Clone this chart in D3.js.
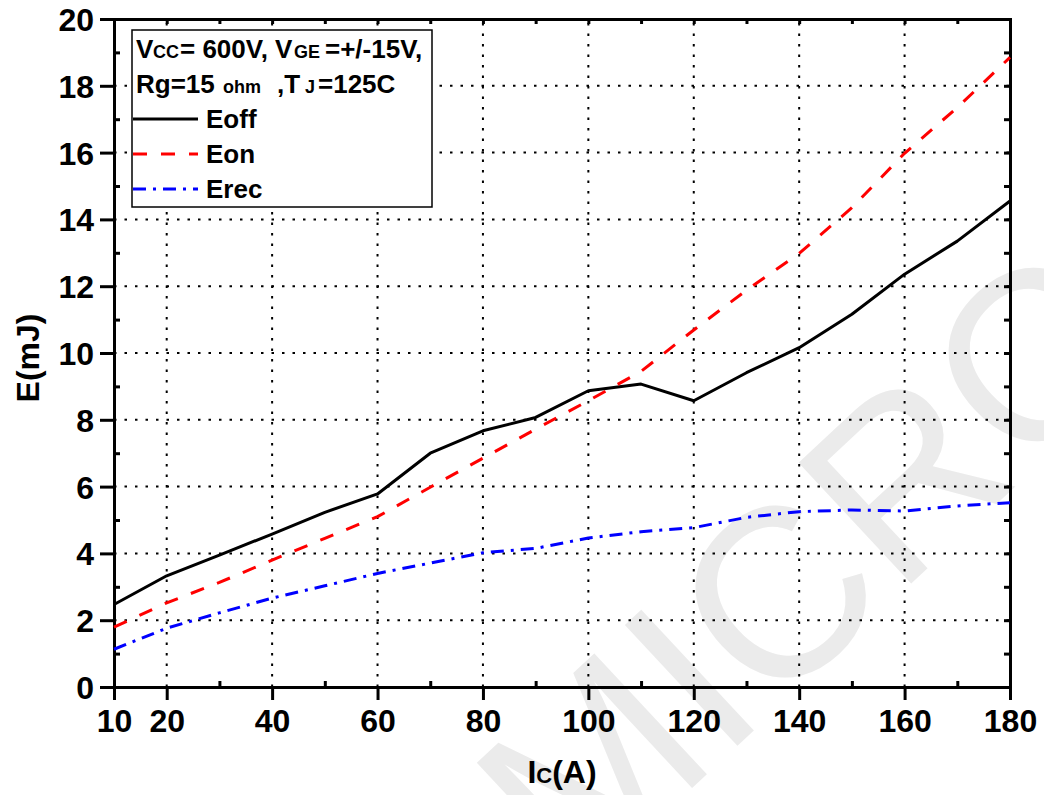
<!DOCTYPE html>
<html>
<head>
<meta charset="utf-8">
<script src="https://cdn.jsdelivr.net/npm/d3@7"></script>
<style>
  body { margin: 0; background: #fff; }
  svg text { font-family: "Liberation Sans", Arial, sans-serif; font-weight: bold; fill: #000; }
</style>
</head>
<body>
<div id="chart"></div>
<script>
(function(d3) {
  'use strict';

  // collector current, A
  var icValues = [10, 20, 30, 40, 50, 60, 70, 80, 90, 100, 110, 120, 130, 140, 150, 160, 170, 180];
  // switching energies, mJ
  var eoff = [2.47, 3.33, 3.95, 4.58, 5.23, 5.78, 7.0, 7.67, 8.07, 8.87, 9.07, 8.57, 9.41, 10.16, 11.16, 12.36, 13.35, 14.55];
  var eon  = [1.79, 2.52, 3.13, 3.80, 4.45, 5.10, 5.98, 6.85, 7.72, 8.57, 9.45, 10.69, 11.88, 12.98, 14.35, 15.98, 17.35, 18.85];
  var erec = [1.13, 1.76, 2.22, 2.66, 3.03, 3.40, 3.71, 4.02, 4.15, 4.46, 4.65, 4.77, 5.08, 5.25, 5.30, 5.27, 5.42, 5.52];

  var xTicks = [10, 20, 40, 60, 80, 100, 120, 140, 160, 180];
  var xMinor = [30, 50, 70, 90, 110, 130, 150, 170];
  var yTicks = [0, 2, 4, 6, 8, 10, 12, 14, 16, 18, 20];
  var yMinor = [1, 3, 5, 7, 9, 11, 13, 15, 17, 19];

  var seriesNames = ['Eoff', 'Eon', 'Erec'];

  var width = 1044;
  var height = 795;
  var margin = {left: 114, right: 34, top: 19, bottom: 108};

  var svg = d3.select('#chart')
    .append('svg')
    .attr('width', width)
    .attr('height', height);

  // watermark
  svg.append('text')
    .attr('transform', 'translate(575,897) rotate(-43)')
    .style('font-size', '240px')
    .style('font-weight', 'normal')
    .style('fill', '#ebebeb')
    .text('MICRO');

  var x = d3.scaleLinear().domain([10, 180]).range([margin.left, width - margin.right]);
  var y = d3.scaleLinear().domain([0, 20]).range([height - margin.bottom, margin.top]);

  var x0 = x.range()[0], x1 = x.range()[1];
  var y0 = y.range()[0], y1 = y.range()[1];

  // dotted grid
  var grid = svg.append('g')
    .attr('stroke', '#000')
    .attr('stroke-width', 2)
    .attr('stroke-dasharray', '2.5,8');

  grid.selectAll('.vgrid')
    .data(xTicks.filter(function(d) { return d > 10 && d < 180; }))
    .enter()
    .append('line')
    .attr('x1', function(d) { return x(d); })
    .attr('x2', function(d) { return x(d); })
    .attr('y1', y0)
    .attr('y2', y1);

  grid.selectAll('.hgrid')
    .data(yTicks.filter(function(d) { return d > 0 && d < 20; }))
    .enter()
    .append('line')
    .attr('y1', function(d) { return y(d); })
    .attr('y2', function(d) { return y(d); })
    .attr('x1', x0)
    .attr('x2', x1);

  // axes
  var bottomAxis = svg.append('g')
    .attr('transform', 'translate(0,' + y0 + ')')
    .call(d3.axisBottom(x).tickValues(xTicks).tickSize(13).tickPadding(8).tickFormat(d3.format('d')));
  bottomAxis.append('g')
    .call(d3.axisTop(x).tickValues(xMinor).tickSize(6).tickFormat(''));

  var leftAxis = svg.append('g')
    .attr('transform', 'translate(' + x0 + ',0)')
    .call(d3.axisLeft(y).tickValues(yTicks).tickSize(14).tickPadding(6).tickFormat(d3.format('d')));
  leftAxis.append('g')
    .call(d3.axisRight(y).tickValues(yMinor).tickSize(6).tickFormat(''));

  var topAxis = svg.append('g')
    .attr('transform', 'translate(0,' + y1 + ')')
    .call(d3.axisBottom(x).tickValues(xTicks.concat(xMinor)).tickSize(5).tickFormat(''));

  var rightAxis = svg.append('g')
    .attr('transform', 'translate(' + x1 + ',0)')
    .call(d3.axisLeft(y).tickValues(yTicks.concat(yMinor)).tickSize(6).tickFormat(''));

  [bottomAxis, leftAxis, topAxis, rightAxis].forEach(function(a) {
    a.selectAll('.domain').attr('stroke-width', 3).attr('stroke', '#000');
    a.selectAll('line').attr('stroke-width', 3).attr('stroke', '#000');
    a.selectAll('text').style('font-size', '32px').style('font-family', '"Liberation Sans", Arial, sans-serif').style('font-weight', 'bold');
  });
  bottomAxis.selectAll('.tick text').attr('dy', '0.75em');
  leftAxis.selectAll('.tick text').attr('dy', '0.36em');

  // series
  var line = d3.line()
    .x(function(d) { return x(d[0]); })
    .y(function(d) { return y(d[1]); });

  var series = [
    {name: seriesNames[0], values: eoff, color: '#000000', dash: null},
    {name: seriesNames[1], values: eon, color: '#ff0000', dash: '14,14'},
    {name: seriesNames[2], values: erec, color: '#0000ff', dash: '13,7,3,7'}
  ];

  svg.selectAll('.series')
    .data(series)
    .enter()
    .append('path')
    .attr('class', 'series')
    .attr('fill', 'none')
    .attr('stroke', function(d) { return d.color; })
    .attr('stroke-width', 3)
    .attr('stroke-linejoin', 'round')
    .attr('stroke-dasharray', function(d) { return d.dash; })
    .attr('d', function(d) {
      return line(icValues.map(function(v, i) { return [v, d.values[i]]; }));
    });

  // legend
  var legend = svg.append('g');
  legend.append('rect')
    .attr('x', 132)
    .attr('y', 30)
    .attr('width', 300)
    .attr('height', 177)
    .attr('fill', '#fff')
    .attr('stroke', '#000')
    .attr('stroke-width', 1.5);

  // condition text, pieces placed like the original
  var cond1 = [['V', 136, 26], ['CC', 153, 18], ['= 600V,', 180, 26], ['V', 275, 26], ['GE', 294, 18], ['=+/-15V,', 325, 26]];
  var cond2 = [['Rg=15', 136, 26], ['ohm', 223, 18], [',T', 277, 26], ['J', 305, 18], ['=125C', 318, 26]];

  [cond1, cond2].forEach(function(parts, row) {
    var t = legend.append('text').attr('y', 58 + row * 35);
    parts.forEach(function(p) {
      t.append('tspan').attr('x', p[1]).style('font-size', p[2] + 'px').text(p[0]);
    });
  });

  var items = legend.selectAll('.item')
    .data(series)
    .enter()
    .append('g')
    .attr('class', 'item')
    .attr('transform', function(d, i) { return 'translate(0,' + (119 + i * 35) + ')'; });

  items.append('line')
    .attr('x1', 133)
    .attr('x2', 198)
    .attr('stroke', function(d) { return d.color; })
    .attr('stroke-width', 3)
    .attr('stroke-dasharray', function(d) { return d.dash; });

  items.append('text')
    .attr('x', 206)
    .attr('y', 9)
    .style('font-size', '26px')
    .text(function(d) { return d.name; });

  // axis titles
  var xt = svg.append('text')
    .attr('x', 562)
    .attr('y', 783)
    .attr('text-anchor', 'middle')
    .style('font-size', '32px');
  xt.append('tspan').text('I');
  xt.append('tspan').style('font-size', '22px').text('C');
  xt.append('tspan').text('(A)');

  svg.append('text')
    .attr('transform', 'translate(39,358) rotate(-90)')
    .attr('text-anchor', 'middle')
    .style('font-size', '32px')
    .text('E(mJ)');

})(window.d3);
</script>
</body>
</html>
